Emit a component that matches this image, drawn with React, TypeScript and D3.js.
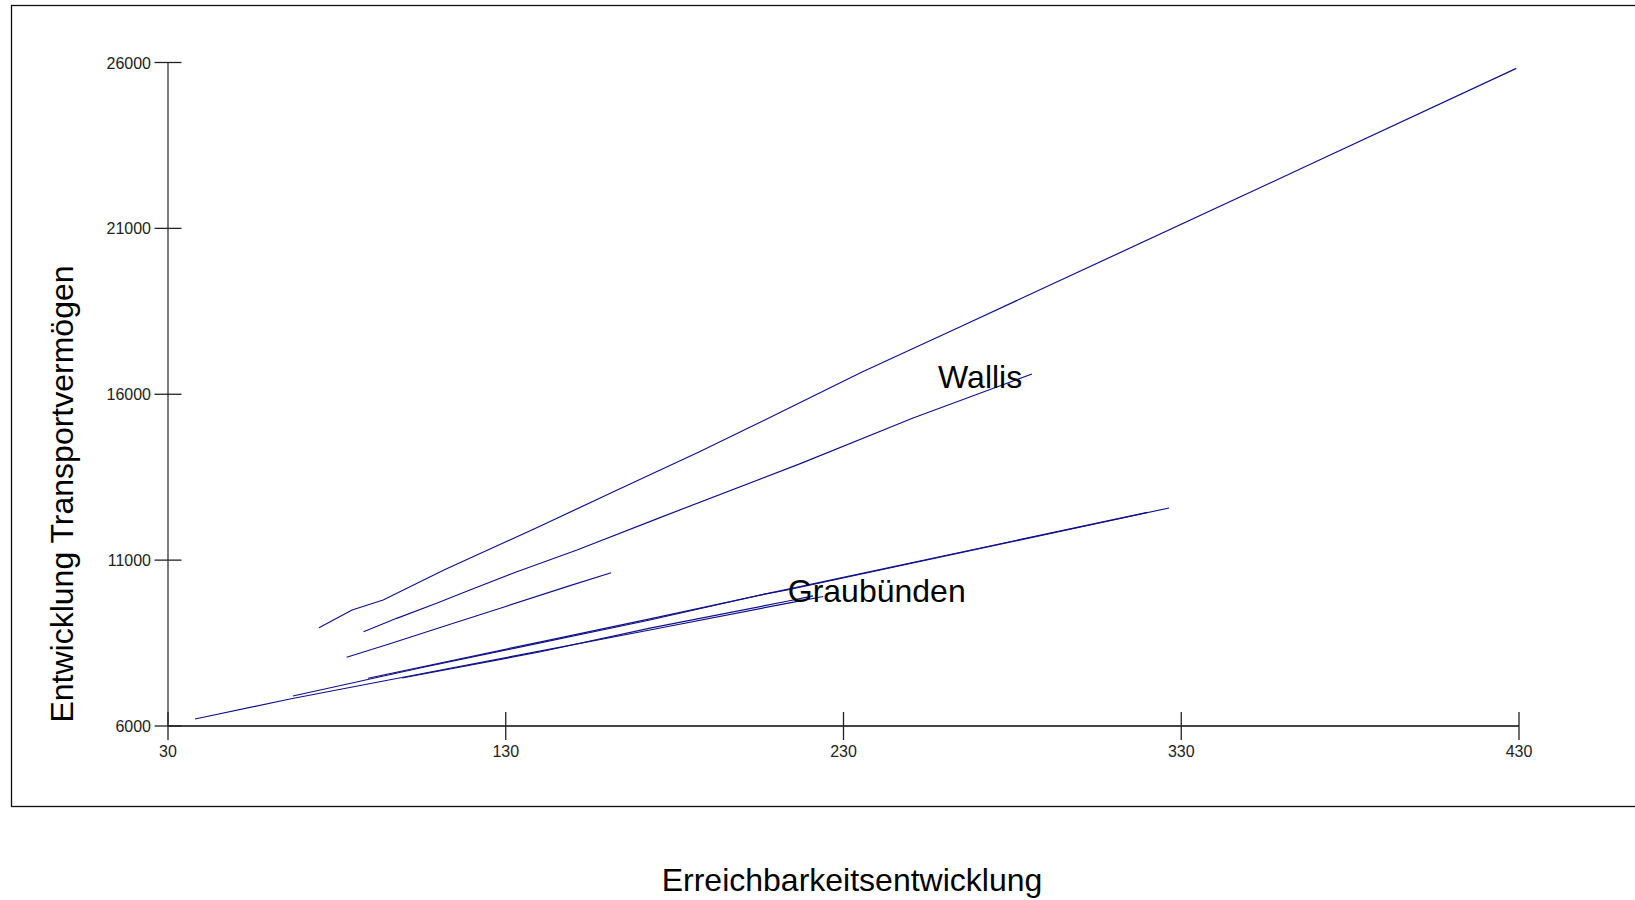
import React, { useEffect, useRef } from 'react'
import * as d3 from 'd3'

// Erreichbarkeitsentwicklung (x) gegen Entwicklung Transportvermögen (y)
const xTicks = [30, 130, 230, 330, 430]
const yTicks = [6000, 11000, 16000, 21000, 26000]

const linieOben: [number, number][] = [
  [74.7, 8963], [84.5, 9496], [93.7, 9798], [111.7, 10702], [139.0, 11968],
  [163.0, 13113], [187.2, 14258], [211.5, 15464], [235.5, 16670], [265.7, 18086],
  [291.2, 19292], [365.2, 22788], [429.2, 25823],
]
const linieWallis: [number, number][] = [
  [87.9, 8842], [97.7, 9246], [109.7, 9707], [119.4, 10099], [133.3, 10651],
  [151.1, 11305], [175.1, 12260], [217.4, 13918], [250.6, 15283], [278.4, 16330],
  [285.8, 16609],
]
const linieMitte: [number, number][] = [
  [82.9, 8071], [95.7, 8480], [111.5, 9000], [129.3, 9580], [148.1, 10200], [161.2, 10621],
]
const linieGr1: [number, number][] = [
  [38.0, 6211], [66.1, 6814], [104.6, 7567], [172.7, 8894], [213.3, 9698], [224.0, 9903],
]
const linieGr2: [number, number][] = [
  [99.3, 7447], [140.0, 8230], [172.7, 8950], [213.3, 9760], [221.0, 9920],
]
const linieGr3: [number, number][] = [
  [67.0, 6904], [104.6, 7748], [172.7, 9195], [205.3, 9948], [213.3, 10099], [326.4, 12571],
]
const linieGr4: [number, number][] = [
  [89.2, 7440], [140.0, 8530], [172.7, 9230], [213.3, 10120], [320.0, 12440],
]
const linien = [linieOben, linieWallis, linieMitte, linieGr1, linieGr2, linieGr3, linieGr4]

const beschriftungen = [
  { text: 'Wallis', x: 258, y: 16190 },
  { text: 'Graubünden', x: 213.5, y: 9740 },
]

function App() {
  const ref = useRef<SVGSVGElement>(null)

  useEffect(() => {
    const svg = d3.select(ref.current)
    svg.selectAll('*').remove()
    const font = '"Liberation Sans", Arial, sans-serif'

    const xScale = d3.scaleLinear().domain([30, 430]).range([168, 1519])
    const yScale = d3.scaleLinear().domain([6000, 26000]).range([726, 62.5])

    // Rahmen (rechte Kante liegt ausserhalb des Bildes)
    svg.append('rect')
      .attr('x', 11.5).attr('y', 5.5)
      .attr('width', 1700).attr('height', 801)
      .attr('fill', 'none').attr('stroke', '#111').attr('stroke-width', 1.3)

    // Achsen
    svg.append('line')
      .attr('x1', xScale(30)).attr('x2', xScale(430))
      .attr('y1', yScale(6000)).attr('y2', yScale(6000))
      .attr('stroke', '#444').attr('stroke-width', 1.8)
    svg.append('line')
      .attr('x1', xScale(30)).attr('x2', xScale(30))
      .attr('y1', yScale(6000)).attr('y2', yScale(26000))
      .attr('stroke', '#333').attr('stroke-width', 1.3)

    const xt = svg.append('g').selectAll('g').data(xTicks).enter().append('g')
    xt.append('line')
      .attr('x1', d => xScale(d)).attr('x2', d => xScale(d))
      .attr('y1', yScale(6000) - 14).attr('y2', yScale(6000) + 14)
      .attr('stroke', '#222').attr('stroke-width', 1.3)
    xt.append('text')
      .attr('x', d => xScale(d)).attr('y', 757)
      .attr('text-anchor', 'middle')
      .style('font-family', font).style('font-size', '16px').attr('fill', '#222')
      .text(d => d)

    const yt = svg.append('g').selectAll('g').data(yTicks).enter().append('g')
    yt.append('line')
      .attr('x1', xScale(30) - 13.5).attr('x2', xScale(30) + 13.5)
      .attr('y1', d => yScale(d)).attr('y2', d => yScale(d))
      .attr('stroke', '#222').attr('stroke-width', 1.3)
    yt.append('text')
      .attr('x', 151).attr('y', d => yScale(d) + 6)
      .attr('text-anchor', 'end')
      .style('font-family', font).style('font-size', '16px').attr('fill', '#222')
      .text(d => d)

    // Linien
    const line = d3.line<[number, number]>()
      .x(d => xScale(d[0]))
      .y(d => yScale(d[1]))

    svg.append('g').selectAll('path').data(linien).enter().append('path')
      .attr('d', d => line(d))
      .attr('fill', 'none')
      .attr('stroke', '#10108a')
      .attr('stroke-width', 1.2)

    // Beschriftungen
    svg.append('g').selectAll('text').data(beschriftungen).enter().append('text')
      .attr('x', d => xScale(d.x)).attr('y', d => yScale(d.y))
      .style('font-family', font).style('font-size', '32px').attr('fill', '#000')
      .text(d => d.text)

    // Achsentitel
    svg.append('text')
      .attr('x', 852).attr('y', 891)
      .attr('text-anchor', 'middle')
      .style('font-family', font).style('font-size', '32px').attr('fill', '#000')
      .text('Erreichbarkeitsentwicklung')

    svg.append('text')
      .attr('transform', 'translate(73, 494) rotate(-90)')
      .attr('text-anchor', 'middle')
      .style('font-family', font).style('font-size', '32px').attr('fill', '#000')
      .text('Entwicklung Transportvermögen')
  }, [])

  return (
    <div>
      <svg ref={ref} width={1635} height={900}
        style={{ position: 'absolute', left: 0, top: 0, background: '#fff' }} />
    </div>
  )
}

export default App
